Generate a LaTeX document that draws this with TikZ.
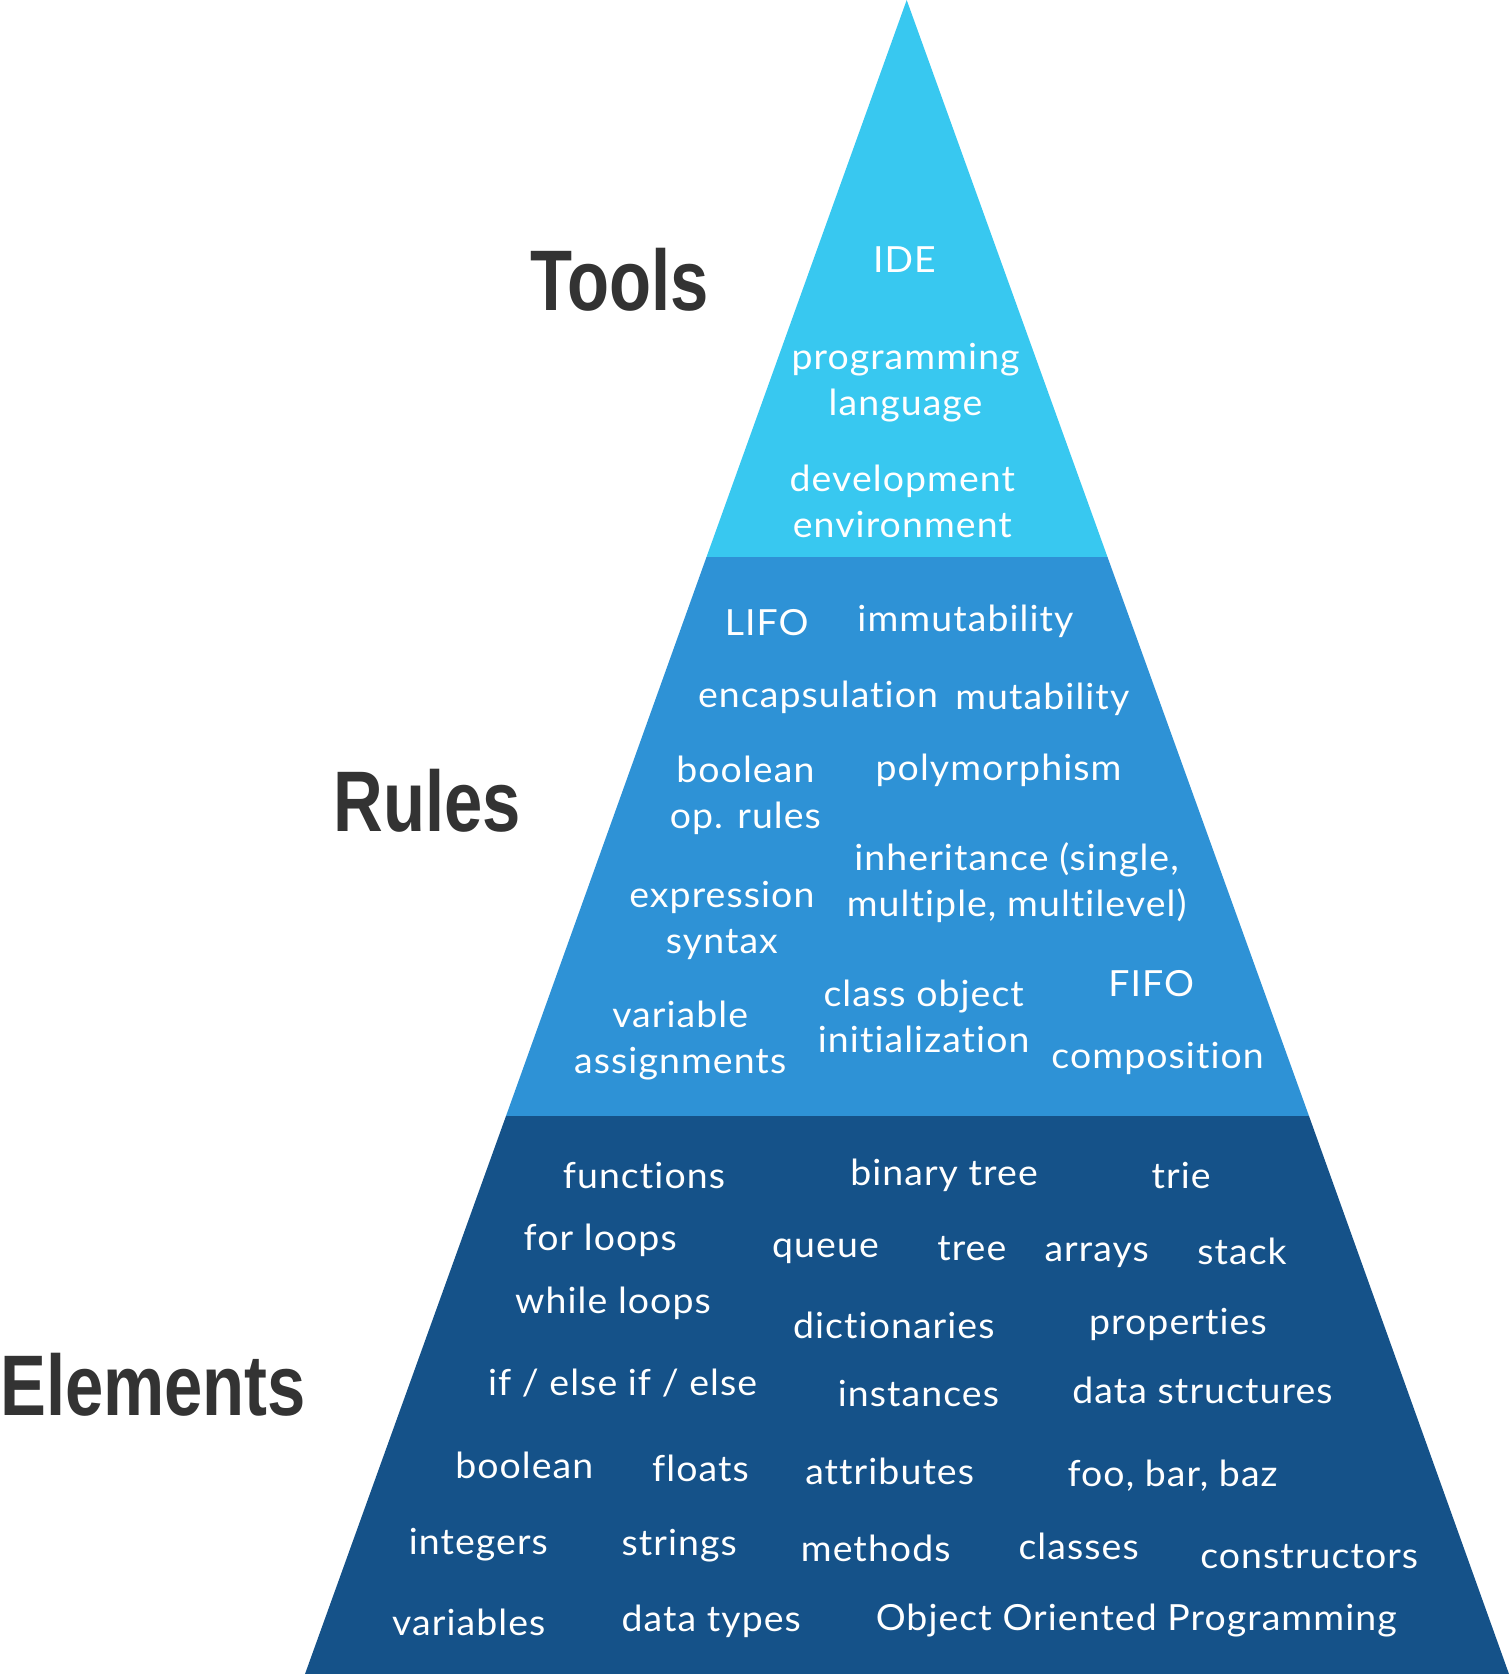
\documentclass[tikz,border=0pt]{standalone}
\usepackage{fontspec}
\setmainfont{Lato}[Ligatures=CommonOff, FakeStretch=1.04, LetterSpace=3]
\newfontfamily\headfont[FakeStretch=0.80]{Liberation Sans}
\usepackage{xcolor}
\usetikzlibrary{positioning}
\definecolor{toolsblue}{RGB}{56,200,240}
\definecolor{rulesblue}{RGB}{46,146,214}
\definecolor{elemblue}{RGB}{21,82,137}
\definecolor{headgray}{RGB}{51,51,51}

\begin{document}
\begin{tikzpicture}[x=1pt, y=-1pt,
  item/.style={text=white, align=center, inner sep=0pt, font=\fontsize{36}{46}\selectfont},
  tierlabel/.style={text=headgray, inner sep=0pt, font=\headfont\bfseries\fontsize{86}{90}\selectfont}]
\useasboundingbox (0,0) rectangle (1509,1674);
% pyramid corners
\coordinate (apex) at (906.7,0);
\coordinate (tl) at (706.5,557);
\coordinate (tr) at (1107.5,557);
\coordinate (ml) at (506,1116);
\coordinate (mr) at (1309,1116);
\coordinate (bl) at (305,1674);
\coordinate (br) at (1509,1674);
\fill[toolsblue] (apex) -- (tr) -- (tl) -- cycle;
\fill[rulesblue] (tl) -- (tr) -- (mr) -- (ml) -- cycle;
\fill[elemblue] (ml) -- (mr) -- (br) -- (bl) -- cycle;
% tier names
\node[tierlabel, anchor=east] (tools) at (709,280) {Tools};
\node[tierlabel, anchor=east] (rules) at (521,801) {Rules};
\node[tierlabel, anchor=west] (elements) at (0,1385) {Elements};
% tools
\node[item] (ide)   at (904.5,259.5) {IDE};
\node[item] (lang)  at (905.6,383) {programming\\language};
\node[item] (env)   at (902.4,501) {development\\environment};
% rules
\node[item] (lifo)  at (766.7,623) {LIFO};
\node[item] (immut) at (965.4,621) {immutability};
\node[item] (encap) at (818,697)   {encapsulation};
\node[item] (mut)   at (1042.3,699) {mutability};
\node[item] (boolop) at (745.4,795) {boolean\\op. rules};
\node[item] (poly)  at (998.5,770.5) {polymorphism};
\node[item] (inher) at (1016.6,882.5)  {inheritance (single,\\multiple, multilevel)};
\node[item] (expr)  at (721.9,920.5) {expression\\syntax};
\node[item] (init)  at (923.7,1016.1) {class object\\initialization};
\node[item] (fifo)  at (1151.2,983.5) {FIFO};
\node[item] (assign) at (680.2,1041) {variable\\assignments};
\node[item] (comp)  at (1157.6,1058) {composition};
% elements
\node[item] (func)  at (643.9,1175.8) {functions};
\node[item] (btree) at (944,1175)   {binary tree};
\node[item] (trie)  at (1181.1,1175.8) {trie};
\node[item] (forl)  at (600.2,1240) {for loops};
\node[item] (queue) at (825.5,1251) {queue};
\node[item] (tree)  at (971.8,1248.4) {tree};
\node[item] (arrays) at (1096.7,1255.5) {arrays};
\node[item] (stack) at (1242,1251.6)  {stack};
\node[item] (whilel) at (613,1303.5)  {while loops};
\node[item] (dict)  at (893.8,1325.3) {dictionaries};
\node[item] (props) at (1177.9,1324) {properties};
\node[item] (ifelse) at (622.6,1382.9) {if / else if / else};
\node[item] (inst)  at (918.4,1393.6) {instances};
\node[item] (dstruct) at (1202.5,1390.4) {data structures};
\node[item] (bool)  at (524.3,1465.2) {boolean};
\node[item] (floats) at (700.5,1468.4) {floats};
\node[item] (attr)  at (889.6,1471.6) {attributes};
\node[item] (foo)   at (1172.6,1475.8) {foo, bar, baz};
\node[item] (ints)  at (478.4,1545) {integers};
\node[item] (strs)  at (679.2,1545.3) {strings};
\node[item] (meth)  at (875.7,1548.5) {methods};
\node[item] (cls)   at (1078.6,1546.3) {classes};
\node[item] (ctor)  at (1309.2,1557)  {constructors};
\node[item] (vars)  at (468.8,1622.1) {variables};
\node[item] (dtypes) at (711.2,1621.1) {data types};
\node[item] (oop)   at (1136.2,1620.5) {Object Oriented Programming};
\end{tikzpicture}
\end{document}
